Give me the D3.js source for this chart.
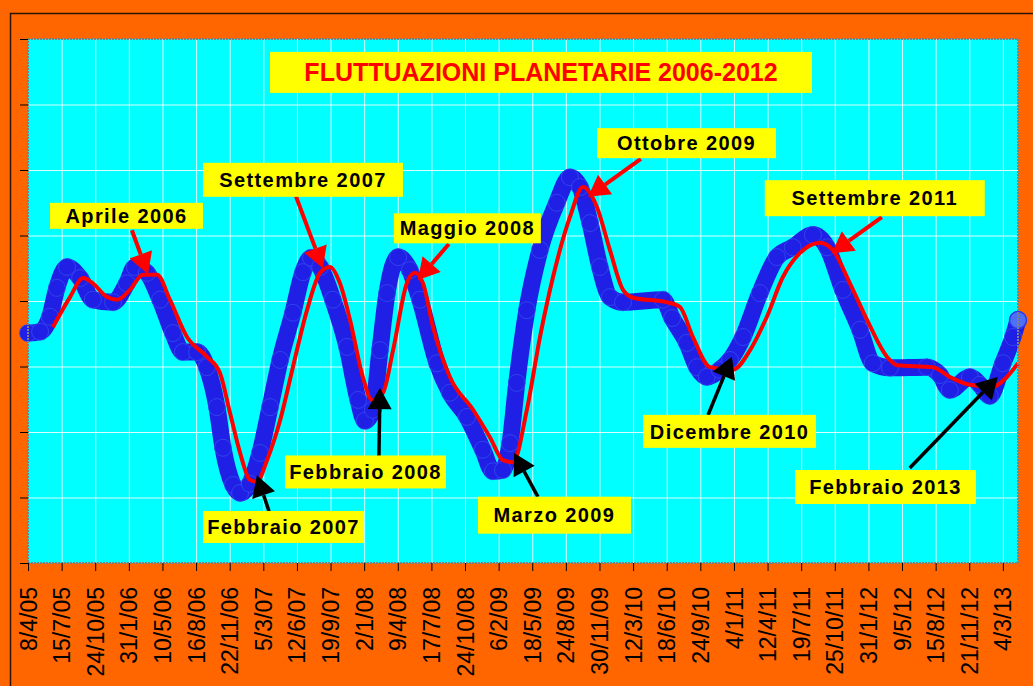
<!DOCTYPE html>
<html>
<head>
<meta charset="utf-8">
<script src="https://cdn.jsdelivr.net/npm/d3@7"></script>
<style>
  body { margin: 0; background: #FF6600; }
  svg { display: block; }
  .tick line { stroke: #000; }
</style>
</head>
<body>
<div id="chart"></div>
<script>
// tick labels of the category axis (one every ~99 days)
const categories = ["8/4/05","15/7/05","24/10/05","31/1/06","10/5/06","16/8/06","22/11/06","5/3/07",
  "12/6/07","19/9/07","2/1/08","9/4/08","17/7/08","24/10/08","6/2/09","18/5/09","24/8/09","30/11/09",
  "12/3/10","18/6/10","24/9/10","4/1/11","12/4/11","19/7/11","25/10/11","31/1/12","9/5/12","15/8/12",
  "21/11/12","4/3/13"];

// blue series (big markers): [category position, value]
const blueSeries = [
  [0,3.51],[0.36,3.53],[0.65,3.76],[0.86,4.20],[1.16,4.52],[1.55,4.35],[1.93,4.02],[2.53,3.98],
  [2.94,4.27],[3.18,4.52],[3.54,4.43],[3.93,4.02],[4.31,3.51],[4.61,3.22],[5.03,3.22],[5.32,2.99],
  [5.62,2.38],[5.80,1.76],[6.10,1.19],[6.31,1.07],[6.60,1.21],[6.90,1.68],[7.20,2.38],[7.50,3.10],
  [7.88,3.82],[8.18,4.44],[8.42,4.66],[8.69,4.52],[9.07,4.02],[9.49,3.30],[9.82,2.49],[10.02,2.17],
  [10.26,2.34],[10.47,3.25],[10.68,4.12],[11.01,4.67],[11.36,4.47],[11.66,4.02],[12.17,3.05],[12.55,2.60],
  [13.06,2.23],[13.53,1.73],[13.83,1.40],[14.13,1.42],[14.34,1.83],[14.54,2.75],[14.84,3.86],[15.23,4.78],
  [15.73,5.50],[16.12,5.89],[16.42,5.74],[16.72,5.19],[17.01,4.52],[17.31,4.06],[17.70,3.98],[18.89,4.02],
  [19.16,3.74],[19.60,3.36],[19.90,2.99],[20.19,2.84],[20.58,2.95],[20.88,3.10],[21.27,3.45],[21.77,4.12],
  [22.28,4.67],[22.75,4.82],[23.35,5.01],[23.77,4.82],[24.24,4.17],[24.75,3.56],[25.13,3.05],[25.64,2.98],
  [26.74,2.99],[27.13,2.87],[27.42,2.64],[28.02,2.84],[28.32,2.72],[28.61,2.55],[29.00,3.05],[29.30,3.45],
  [29.45,3.71]
];

// red series (lagged line)
const redSeries = [
  [0.74,3.60],[1.25,4.06],[1.64,4.35],[1.93,4.27],[2.35,4.06],[2.65,4.02],[3.03,4.17],[3.42,4.40],
  [3.84,4.40],[4.22,4.02],[4.73,3.45],[5.32,3.15],[5.71,2.90],[6.01,2.29],[6.31,1.68],[6.60,1.27],
  [6.81,1.24],[7.11,1.57],[7.50,2.18],[7.88,2.99],[8.30,3.86],[8.69,4.43],[8.98,4.52],[9.28,4.27],
  [9.58,3.71],[9.96,2.84],[10.23,2.49],[10.56,2.60],[10.86,3.25],[11.27,4.27],[11.51,4.43],[11.75,4.27],
  [12.05,3.60],[12.55,2.84],[13.24,2.34],[13.74,1.92],[14.13,1.57],[14.43,1.54],[14.84,2.34],[15.23,3.45],
  [15.62,4.37],[16.12,5.28],[16.51,5.74],[16.92,5.44],[17.31,4.78],[17.70,4.17],[18.00,4.05],[19.01,3.98],
  [19.39,3.91],[19.78,3.45],[20.29,2.99],[20.97,2.95],[21.48,3.25],[21.98,3.76],[22.46,4.37],[22.96,4.73],
  [23.56,4.89],[23.94,4.78],[24.45,4.27],[24.96,3.71],[25.55,3.15],[25.85,3.02],[26.92,2.99],[27.42,2.84],
  [28.02,2.72],[28.70,2.69],[29.12,2.84],[29.45,3.05]
];

const title = "FLUTTUAZIONI PLANETARIE 2006-2012";

// callouts: box centre and arrow tail/tip in data units
const notes = [
  {text:"Aprile 2006",     cx:2.93,  cy:5.30, w:153, h:26, tail:[3.09,5.08],  tip:[3.57,4.41],  col:"#FF0000"},
  {text:"Settembre 2007",  cx:8.18,  cy:5.85, w:200, h:34, tail:[7.97,5.60],  tip:[8.77,4.50],  col:"#FF0000"},
  {text:"Maggio 2008",     cx:13.07, cy:5.11, w:147, h:30, tail:[12.52,4.87], tip:[11.60,4.32], col:"#FF0000"},
  {text:"Ottobre 2009",    cx:19.59, cy:6.41, w:179, h:30, tail:[18.23,6.17], tip:[16.66,5.59], col:"#FF0000"},
  {text:"Settembre 2011",  cx:25.19, cy:5.57, w:220, h:36, tail:[25.40,5.28], tip:[23.91,4.73], col:"#FF0000"},
  {text:"Febbraio 2007",   cx:7.60,  cy:0.55, w:161, h:32, tail:[7.17,0.79],  tip:[6.81,1.34],  col:"#000000"},
  {text:"Febbraio 2008",   cx:10.04, cy:1.39, w:161, h:33, tail:[10.44,1.63], tip:[10.47,2.67], col:"#000000"},
  {text:"Marzo 2009",      cx:15.66, cy:0.73, w:153, h:37, tail:[15.17,1.01], tip:[14.46,1.68], col:"#000000"},
  {text:"Dicembre 2010",   cx:20.87, cy:2.01, w:173, h:33, tail:[20.23,2.26], tip:[20.94,3.15], col:"#000000"},
  {text:"Febbraio 2013",   cx:25.51, cy:1.16, w:181, h:34, tail:[26.23,1.45], tip:[28.85,2.84], col:"#000000"}
];

let width=1033, height=686;
let font="'Liberation Sans', Arial, sans-serif";

let svg=d3.select("#chart").append("svg").attr("width",width).attr("height",height);

svg.append("rect").attr("width",width).attr("height",height).attr("fill","#FF6600");
svg.append("rect").attr("x",10.5).attr("y",13.5).attr("width",width).attr("height",height)
  .attr("fill","none").attr("stroke","#2b1500").attr("stroke-width",1.5);

let x=d3.scaleLinear().domain([0,29.45]).range([28,1018]);
let y=d3.scaleLinear().domain([0,8]).range([563,39]);

// plot area
svg.append("rect").attr("x",x(0)).attr("y",y(8)).attr("width",x(29.45)-x(0)).attr("height",y(0)-y(8))
  .attr("fill","#00FFFF");

let grid=svg.append("g");
grid.selectAll(".vg").data(d3.range(1,30)).join("line")
  .attr("x1",d=>x(d)+0.5).attr("x2",d=>x(d)+0.5).attr("y1",y(8)).attr("y2",y(0))
  .attr("stroke","#ffffff").attr("stroke-opacity",0.85).attr("stroke-width",1);
grid.selectAll(".hg").data(d3.range(1,8)).join("line")
  .attr("x1",x(0)).attr("x2",x(29.45)).attr("y1",d=>y(d)+0.5).attr("y2",d=>y(d)+0.5)
  .attr("stroke","#ffffff").attr("stroke-opacity",0.85).attr("stroke-width",1);

// blue series: thick band + markers
let plot=svg.append("g");
let line=d3.line().x(d=>x(d[0])).y(d=>y(d[1])).curve(d3.curveMonotoneX);

plot.append("path").datum(blueSeries).attr("d",line)
  .attr("fill","none").attr("stroke","#1f1fe6").attr("stroke-width",17)
  .attr("stroke-linecap","round").attr("stroke-linejoin","round");
plot.selectAll(".bm").data(blueSeries).join("circle")
  .attr("cx",d=>x(d[0])).attr("cy",d=>y(d[1])).attr("r",8.5)
  .attr("fill","#1f1fe6").attr("stroke","#3d5cf0").attr("stroke-opacity",0.6).attr("stroke-width",1);
plot.append("circle").datum(blueSeries[blueSeries.length-1])
  .attr("cx",d=>x(d[0])).attr("cy",d=>y(d[1])).attr("r",8.5)
  .attr("fill","#4f6ff5").attr("stroke","#2a3ae8").attr("stroke-width",1.5);

plot.append("path").datum(redSeries).attr("d",line)
  .attr("fill","none").attr("stroke","#FF0000").attr("stroke-width",4)
  .attr("stroke-linejoin","round");

// border of plot area
svg.append("rect").attr("x",x(0)).attr("y",y(8)).attr("width",x(29.45)-x(0)).attr("height",y(0)-y(8))
  .attr("fill","none").attr("stroke","#808080").attr("stroke-width",2).attr("stroke-dasharray","2,1");

// axes
let xAxis=d3.axisBottom(x).tickValues(d3.range(30)).tickFormat(i=>categories[i]).tickSize(8).tickSizeOuter(0);
let gx=svg.append("g").attr("transform","translate(0,"+y(0)+")").call(xAxis);
gx.select(".domain").remove();
gx.selectAll(".tick text")
  .attr("transform","rotate(-90)").attr("x",-24).attr("y",0).attr("dy","0.35em")
  .style("text-anchor","end").style("font-family",font).style("font-size","23px").attr("fill","#000");

let yAxis=d3.axisLeft(y).tickValues(d3.range(0,9)).tickFormat("").tickSize(8).tickSizeOuter(0);
let gy=svg.append("g").attr("transform","translate("+x(0)+",0)").call(yAxis);
gy.select(".domain").remove();

// callouts
function arrow(g,tail,tip,col,w){
  let x1=x(tail[0]),y1=y(tail[1]),x2=x(tip[0]),y2=y(tip[1]);
  let a=Math.atan2(y2-y1,x2-x1), L=21, B=12;
  let bx=x2-L*Math.cos(a), by=y2-L*Math.sin(a);
  g.append("line").attr("x1",x1).attr("y1",y1).attr("x2",bx).attr("y2",by)
    .attr("stroke",col).attr("stroke-width",w);
  let pts=[[x2,y2],[bx+B*Math.sin(a),by-B*Math.cos(a)],[bx-B*Math.sin(a),by+B*Math.cos(a)]];
  g.append("polygon").attr("points",pts.map(p=>p.join(",")).join(" ")).attr("fill",col);
}

let ann=svg.append("g");
notes.forEach(n=>{
  arrow(ann,n.tail,n.tip,n.col,n.col=="#000000"?3.5:4);
});
notes.forEach(n=>{
  ann.append("rect").attr("x",x(n.cx)-n.w/2).attr("y",y(n.cy)-n.h/2).attr("width",n.w).attr("height",n.h)
    .attr("fill","#FFFF00");
  ann.append("text").attr("x",x(n.cx)).attr("y",y(n.cy)).attr("dy","0.36em")
    .attr("text-anchor","middle").style("font-family",font).style("font-size","20px")
    .style("font-weight","bold").style("letter-spacing","1.4px").attr("fill","#000").text(n.text);
});

// title box
ann.append("rect").attr("x",x(15.26)-271).attr("y",y(7.49)-20.5).attr("width",542).attr("height",41)
  .attr("fill","#FFFF00");
ann.append("text").attr("x",x(15.26)).attr("y",y(7.49)).attr("dy","0.36em").attr("text-anchor","middle")
  .style("font-family",font).style("font-size","25px").style("font-weight","bold").attr("fill","#FF0000")
  .text(title);
</script>
</body>
</html>
